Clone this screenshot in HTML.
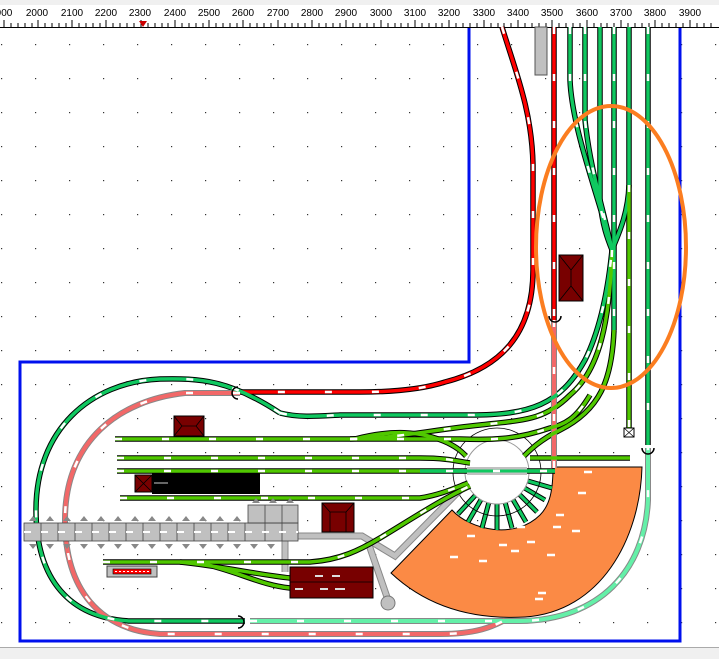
<!DOCTYPE html>
<html><head><meta charset="utf-8"><style>
html,body{margin:0;padding:0;background:#fff;}
svg{display:block;font-family:"Liberation Sans",sans-serif;}
</style></head><body>
<svg width="719" height="659" viewBox="0 0 719 659" xmlns="http://www.w3.org/2000/svg">
<defs>
<pattern id="dots" x="1" y="10" width="34" height="34" patternUnits="userSpaceOnUse"><rect x="0" y="0" width="1.2" height="1.2" fill="#333"/></pattern>
<path id="red1" d="M502,27 C515,70 532,110 533,165 L533,270 C533,335 500,368 445,382 C420,390 390,392 360,392 L240,392"/>
<path id="redv" d="M554,27 L554,320"/>
<path id="pink" d="M240,393 L185,393 C120,400 65,440 65,520 C65,590 100,630 160,634 L440,634 C480,634 495,625 505,620 M554,320 L554,468"/>
<path id="gOuter" d="M280,413 C230,380 200,378 160,379 C90,382 36,430 36,510 C36,580 70,618 130,621 L245,621"/>
<path id="gTop" d="M280,413 C300,418 320,416 340,415 L470,415 C530,415 560,405 585,360 C600,330 608,290 612,250"/>
<path id="mint" d="M250,621 L520,621 C600,620 645,570 648,500 L648,448"/>
<path id="v1" d="M570,27 L570,80 C572,130 600,200 612,250"/>
<path id="v2" d="M585,27 L585,120 C590,170 605,215 612,250"/>
<path id="v3" d="M600,27 L600,200 C602,225 608,240 612,250"/>
<path id="v4" d="M614,27 L614,330"/>
<path id="v5" d="M629,27 L629,185 C628,215 618,235 612,250"/>
<path id="v6" d="M648,27 L648,445"/>
<path id="v5b" d="M629,185 L629,428"/>
<path id="c1" d="M612,250 C610,320 600,370 570,395 C545,420 525,420 480,425 C430,430 400,438 350,439"/>
<path id="c2" d="M614,330 C612,380 600,410 560,430 C540,440 530,450 524,456"/>
<path id="s1" d="M115,439 L460,439 C490,440 515,440 550,428 C565,424 575,420 590,395"/>
<path id="s2" d="M117,458 L420,458 C450,458 460,462 470,463"/>
<path id="s3" d="M120,498 L420,498 C440,495 455,488 468,483"/>
<path id="s3b" d="M530,458 L630,458"/>
<path id="s4" d="M103,562 L310,562 C340,560 360,550 380,538 C410,520 440,500 470,486"/>
<path id="s4b" d="M180,562 C220,566 260,575 290,578 M200,563 C240,572 260,585 290,588"/>
<path id="s5" d="M355,439 C390,430 420,430 448,443 C458,448 462,452 466,456"/>
</defs>

<rect x="0" y="0" width="719" height="5" fill="#f0f0f0"/>
<rect x="0" y="5" width="719" height="22" fill="#fff"/>
<g font-size="10" fill="#000" text-anchor="middle">
<text x="4" y="16">900</text><text x="37" y="16">2000</text><text x="72" y="16">2100</text><text x="106" y="16">2200</text><text x="140" y="16">2300</text><text x="175" y="16">2400</text><text x="209" y="16">2500</text><text x="243" y="16">2600</text><text x="278" y="16">2700</text><text x="312" y="16">2800</text><text x="346" y="16">2900</text><text x="381" y="16">3000</text><text x="415" y="16">3100</text><text x="449" y="16">3200</text><text x="484" y="16">3300</text><text x="518" y="16">3400</text><text x="552" y="16">3500</text><text x="587" y="16">3600</text><text x="621" y="16">3700</text><text x="655" y="16">3800</text><text x="690" y="16">3900</text>
</g>
<line x1="0" y1="27.5" x2="719" y2="27.5" stroke="#000"/>
<g stroke="#000" stroke-width="1">
<path d="M4,20V27M11,23V27M18,23V27M25,23V27M32,23V27M38,20V27M45,23V27M52,23V27M59,23V27M66,23V27M72,20V27M79,23V27M86,23V27M93,23V27M100,23V27M106,20V27M113,23V27M120,23V27M127,23V27M134,23V27M141,20V27M148,23V27M155,23V27M162,23V27M168,23V27M175,20V27M182,23V27M189,23V27M196,23V27M203,23V27M209,20V27M216,23V27M223,23V27M230,23V27M237,23V27M243,20V27M250,23V27M257,23V27M264,23V27M271,23V27M278,20V27M285,23V27M292,23V27M298,23V27M305,23V27M312,20V27M319,23V27M326,23V27M333,23V27M340,23V27M346,20V27M353,23V27M360,23V27M367,23V27M374,23V27M381,20V27M388,23V27M395,23V27M401,23V27M408,23V27M415,20V27M422,23V27M429,23V27M436,23V27M442,23V27M449,20V27M456,23V27M463,23V27M470,23V27M477,23V27M484,20V27M491,23V27M498,23V27M504,23V27M511,23V27M518,20V27M525,23V27M532,23V27M539,23V27M546,23V27M552,20V27M559,23V27M566,23V27M573,23V27M580,23V27M587,20V27M594,23V27M601,23V27M607,23V27M614,23V27M621,20V27M628,23V27M635,23V27M642,23V27M649,23V27M655,20V27M662,23V27M669,23V27M676,23V27M683,23V27M690,20V27M697,23V27M704,23V27M711,23V27"/>
</g>
<path d="M139,21 L147,21 L143,27 Z" fill="#c00"/>

<rect x="0" y="28" width="719" height="620" fill="url(#dots)"/>

<path d="M469,28 L469,362 L20,362 L20,641 L680,641 L680,28" fill="none" stroke="#0010ee" stroke-width="3"/>
<rect x="0" y="647" width="719" height="12" fill="#f0f0f0"/>
<line x1="0" y1="647.5" x2="719" y2="647.5" stroke="#aaa"/>

<path d="M553,467 L642,467 C640,540 600,612 525,617 C470,620 425,605 391,573 L452,510 C470,530 515,540 540,515 C550,505 553,490 553,467 Z" fill="#fb8a45" stroke="#000" stroke-width="1"/>

<g stroke="#000" stroke-width="5">
<path d="M497,472 L497,530 M497,472 L482,528 M497,472 L468,522 M497,472 L458,514 M497,472 L512,528 M497,472 L526,522 M497,472 L537,512 M497,472 L545,500 M497,472 L552,488"/>
</g>
<g stroke="#10c860" stroke-width="3">
<path d="M497,472 L497,530 M497,472 L482,528 M497,472 L468,522 M497,472 L458,514 M497,472 L512,528 M497,472 L526,522 M497,472 L537,512 M497,472 L545,500 M497,472 L552,488"/>
</g>
<circle cx="497" cy="472" r="44" fill="none" stroke="#000" stroke-width="0.8"/>
<circle cx="497" cy="472" r="32" fill="#fff" stroke="#999" stroke-width="1"/>

<path d="M298,536 L362,536 L395,556 L462,488" fill="none" stroke="#888" stroke-width="7"/>
<path d="M298,536 L362,536 L395,556 L462,488" fill="none" stroke="#c0c0c0" stroke-width="5"/>
<path d="M285,540 L285,572 M368,542 L388,600" stroke="#888" stroke-width="7"/>
<path d="M285,540 L285,572 M368,542 L388,600" stroke="#c0c0c0" stroke-width="5"/>
<circle cx="388" cy="603" r="7" fill="#c0c0c0" stroke="#777"/>
<rect x="535" y="27" width="12" height="48" fill="#c0c0c0" stroke="#555"/>

<g fill="none" stroke="#000" stroke-width="5.5">
<use href="#red1"/><use href="#redv"/><use href="#gOuter"/><use href="#gTop"/>
<use href="#v1"/><use href="#v2"/><use href="#v3"/><use href="#v4"/><use href="#v5"/><use href="#v6"/><use href="#v5b"/>
<use href="#c1"/><use href="#c2"/><use href="#s1"/><use href="#s2"/><use href="#s3"/><use href="#s3b"/><use href="#s4"/><use href="#s4b"/><use href="#s5"/>
</g>
<g fill="none" stroke="#888" stroke-width="6"><use href="#pink"/><use href="#mint"/></g>
<g fill="none" stroke-width="3.5">
<use href="#red1" stroke="#ff0000"/><use href="#redv" stroke="#ff0000"/>
<use href="#pink" stroke="#f26868" stroke-width="4"/>
<use href="#mint" stroke="#64f0a8" stroke-width="4"/>
<use href="#gOuter" stroke="#10c860"/><use href="#gTop" stroke="#10c860"/>
<use href="#v1" stroke="#10c860"/><use href="#v2" stroke="#10c860"/><use href="#v3" stroke="#10c860"/><use href="#v4" stroke="#10c860"/><use href="#v5" stroke="#10c860"/><use href="#v6" stroke="#10c860"/>
<use href="#v5b" stroke="#50c800"/>
<use href="#c1" stroke="#50c800"/><use href="#c2" stroke="#50c800"/>
<use href="#s1" stroke="#50c800"/><use href="#s2" stroke="#50c800"/><use href="#s3" stroke="#50c800"/><use href="#s3b" stroke="#50c800"/><use href="#s4" stroke="#50c800"/><use href="#s4b" stroke="#50c800"/><use href="#s5" stroke="#50c800"/>
</g>
<path d="M117,471 L555,471" stroke="#000" stroke-width="5.5"/>
<path d="M117,471 L555,471" stroke="#50c800" stroke-width="3.5"/>
<path d="M420,471 L555,471" stroke="#10c860" stroke-width="3.5"/>
<rect x="467" y="467" width="60" height="8" fill="#c0c0c0"/>
<path d="M467,471 L527,471" stroke="#10c860" stroke-width="3"/>

<g fill="none" stroke="#fff" stroke-width="2.5" stroke-dasharray="7 40">
<use href="#red1"/><use href="#redv"/><use href="#pink"/><use href="#mint"/><use href="#gOuter"/><use href="#gTop"/>
<use href="#v1"/><use href="#v2"/><use href="#v4"/><use href="#v6"/><use href="#v5b"/><use href="#c1"/>
<use href="#s1"/><use href="#s2"/><use href="#s3"/><use href="#s4"/>
</g>
<path d="M117,471 L555,471" stroke="#fff" stroke-width="2.5" stroke-dasharray="7 40"/>

<rect x="24" y="523" width="274" height="18" fill="#c0c0c0" stroke="#444" stroke-width="0.8"/>
<rect x="248" y="505" width="50" height="18" fill="#c0c0c0" stroke="#444" stroke-width="0.8"/>
<g stroke="#444" stroke-width="0.8">
<path d="M41,523V541M58,523V541M75,523V541M92,523V541M109,523V541M126,523V541M143,523V541M160,523V541M177,523V541M194,523V541M211,523V541M228,523V541M245,523V541M265,505V541M282,505V541M248,523H298"/>
</g>
<g fill="#888">
<path d="M29,544l4,5l4,-5zM46,544l4,5l4,-5zM63,544l4,5l4,-5zM80,544l4,5l4,-5zM97,544l4,5l4,-5zM114,544l4,5l4,-5zM131,544l4,5l4,-5zM148,544l4,5l4,-5zM165,544l4,5l4,-5zM182,544l4,5l4,-5zM199,544l4,5l4,-5zM216,544l4,5l4,-5zM233,544l4,5l4,-5zM250,544l4,5l4,-5zM267,544l4,5l4,-5z"/>
<path d="M29,521l4,-5l4,5zM46,521l4,-5l4,5zM63,521l4,-5l4,5zM80,521l4,-5l4,5zM97,521l4,-5l4,5zM114,521l4,-5l4,5zM131,521l4,-5l4,5zM148,521l4,-5l4,5zM165,521l4,-5l4,5zM182,521l4,-5l4,5zM199,521l4,-5l4,5zM216,521l4,-5l4,5zM233,521l4,-5l4,5zM252,503l4,-5l4,5zM269,503l4,-5l4,5zM286,503l4,-5l4,5z"/>
</g>
<path d="M24,532H298" stroke="#fff" stroke-width="2" stroke-dasharray="7 10"/>

<g fill="#780000" stroke="#000" stroke-width="1">
<rect x="174" y="416" width="30" height="20"/>
<rect x="135" y="475" width="17" height="17"/>
<rect x="322" y="503" width="32" height="29"/>
<rect x="290" y="567" width="83" height="31"/>
<rect x="559" y="255" width="24" height="46"/>
</g>
<rect x="152" y="473" width="108" height="21" fill="#000"/>
<path d="M154,483H168" stroke="#888" stroke-width="1.5"/>
<g stroke="#000" stroke-width="0.8" fill="none">
<path d="M174,416L182,426L174,436M204,416L196,426L204,436M182,426H196"/>
<path d="M135,475L152,492M152,475L135,492"/>
<path d="M322,503L330,512L330,532M354,503L346,512L346,532M330,512H346"/>
<path d="M290,582H373"/>
<path d="M559,255L571,270L583,255M559,301L571,286L583,301M571,270V286"/>
</g>
<g stroke="#ddd" stroke-width="2"><path d="M315,576h8M332,576h8M295,589h8M320,589h8M335,589h10"/></g>
<rect x="107" y="566" width="50" height="11" fill="#c0c0c0" stroke="#444"/>
<rect x="113" y="569" width="38" height="5" fill="#f00" stroke="#000" stroke-width="0.6"/>
<path d="M115,571.5H149" stroke="#fff" stroke-width="1" stroke-dasharray="2 2"/>

<g fill="none" stroke="#000" stroke-width="1.5">
<path d="M238,387 a6,6 0 0 0 0,12"/>
<path d="M238,616 a6,6 0 0 1 0,12"/>
<path d="M549,316 a6,6 0 0 0 12,0"/>
<path d="M642,448 a6,6 0 0 0 12,0"/>
</g>
<rect x="624" y="428" width="10" height="9" fill="#fff" stroke="#000"/>
<path d="M624,428l10,9M634,428l-10,9" stroke="#000" stroke-width="0.7"/>

<ellipse cx="611" cy="247" rx="75" ry="141" fill="none" stroke="#fb7d20" stroke-width="4"/>

<g stroke="#fff" stroke-width="2.5">
<path d="M584,472h8M578,493h8M556,515h8M553,527h8M572,531h8M517,527h8M467,536h8M499,545h8M527,542h8M511,551h8M450,557h8M479,561h8M547,555h8M538,593h8M535,599h8"/>
</g>
</svg>
</body></html>
